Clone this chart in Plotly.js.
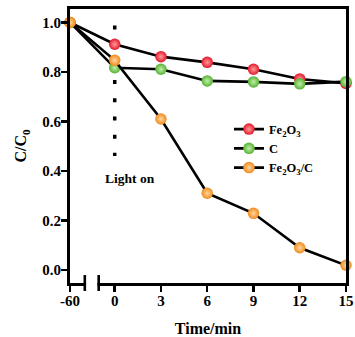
<!DOCTYPE html>
<html>
<head>
<meta charset="utf-8">
<script src="https://cdn.plot.ly/plotly-3.0.1.min.js"></script>
<style>html,body{margin:0;padding:0;background:#fff;}#chart{width:355px;height:337px;}</style>
</head>
<body>
<div id="chart"></div>
<script>
// ---- data ----
const time = [-60, 0, 3, 6, 9, 12, 15];
const timeLabels = ['-60', '0', '3', '6', '9', '12', '15'];
const fe2o3 = [1.0, 0.912, 0.862, 0.839, 0.811, 0.772, 0.754];
const carbon = [1.0, 0.817, 0.811, 0.764, 0.760, 0.752, 0.761];
const fe2o3C = [1.0, 0.847, 0.610, 0.310, 0.229, 0.090, 0.019];
const seriesNames = ['Fe<sub>2</sub>O<sub>3</sub>', 'C', 'Fe<sub>2</sub>O<sub>3</sub>/C'];
const yTicks = [0.0, 0.2, 0.4, 0.6, 0.8, 1.0];

// broken x axis: the -60 min point is drawn compressed left of the break
const BREAK_POS = -2.9;
const xPos = t => (t < 0 ? BREAK_POS : t);
const xs = time.map(xPos);

const FONT = 'Liberation Serif, Times New Roman, serif';

function trace(name, y, col, center) {
  return {
    x: xs, y: y, name: name, type: 'scatter', mode: 'lines+markers',
    cliponaxis: false,
    line: {color: '#000', width: 2.6},
    marker: {size: 11.5, color: col, line: {width: 0},
             gradient: {type: 'radial', color: center}}
  };
}

const data = [
  trace(seriesNames[0], fe2o3, '#e3182a', '#ff9a9a'),
  trace(seriesNames[1], carbon, '#55b233', '#c2eeaa'),
  trace(seriesNames[2], fe2o3C, '#f08a1c', '#ffd6a0')
];

const layout = {
  width: 355, height: 337,
  margin: {l: 70, r: 9, t: 9, b: 54},
  paper_bgcolor: '#fff', plot_bgcolor: '#fff',
  font: {family: FONT, size: 14, color: '#000', weight: 'bold'},
  showlegend: true,
  legend: {x: 0.576, y: 0.615, xanchor: 'left', yanchor: 'top',
           bgcolor: 'rgba(0,0,0,0)', font: {family: FONT, size: 12.5, weight: 'bold'},
           tracegroupgap: 0, itemwidth: 30},
  xaxis: {
    range: [BREAK_POS, 15], showgrid: false, zeroline: false,
    showline: true, linecolor: '#000', linewidth: 3, mirror: true,
    ticks: 'outside', ticklen: 6, tickwidth: 2.5, tickcolor: '#000',
    tickmode: 'array', tickvals: xs, ticktext: timeLabels,
    ticklabelstandoff: -4,
    tickfont: {family: FONT, size: 15, weight: 'bold'},
    title: {text: 'Time/min', standoff: 16, font: {family: FONT, size: 16, weight: 'bold'}}
  },
  yaxis: {
    range: [-0.0525, 1.0545], showgrid: false, zeroline: false,
    showline: true, linecolor: '#000', linewidth: 3, mirror: true,
    ticks: 'outside', ticklen: 6, tickwidth: 2.5, tickcolor: '#000',
    tickmode: 'array', tickvals: yTicks, tickformat: '.1f',
    ticklabelstandoff: -3,
    tickfont: {family: FONT, size: 15, weight: 'bold'},
    title: {text: 'C/C<sub>0</sub>', standoff: 12, font: {family: FONT, size: 16, weight: 'bold'}}
  },
  shapes: [
    // dotted "light on" marker line
    {type: 'line', xref: 'x', yref: 'y', x0: 0, x1: 0, y0: 0.988, y1: 0.461,
     layer: 'below', line: {color: '#000', width: 3.5, dash: '4px,14.2px'}},
    // axis break: white gap
    {type: 'rect', xref: 'x', yref: 'paper', x0: -1.86, x1: -1.12, y0: -0.012, y1: 0.012,
     layer: 'above', fillcolor: '#fff', line: {width: 0}},
    // break bars
    {type: 'line', xref: 'x', yref: 'paper', x0: -1.94, x1: -1.94, y0: -0.029, y1: 0.029,
     layer: 'above', line: {color: '#000', width: 2.6}},
    {type: 'line', xref: 'x', yref: 'paper', x0: -1.04, x1: -1.04, y0: -0.029, y1: 0.029,
     layer: 'above', line: {color: '#000', width: 2.6}}
  ],
  annotations: [
    {text: 'Light on', x: 1.0, y: 0.368, xref: 'x', yref: 'y', showarrow: false,
     font: {family: FONT, size: 13.5, weight: 'bold'}}
  ]
};

Plotly.newPlot('chart', data, layout, {displayModeBar: false, staticPlot: true});
</script>
</body>
</html>
